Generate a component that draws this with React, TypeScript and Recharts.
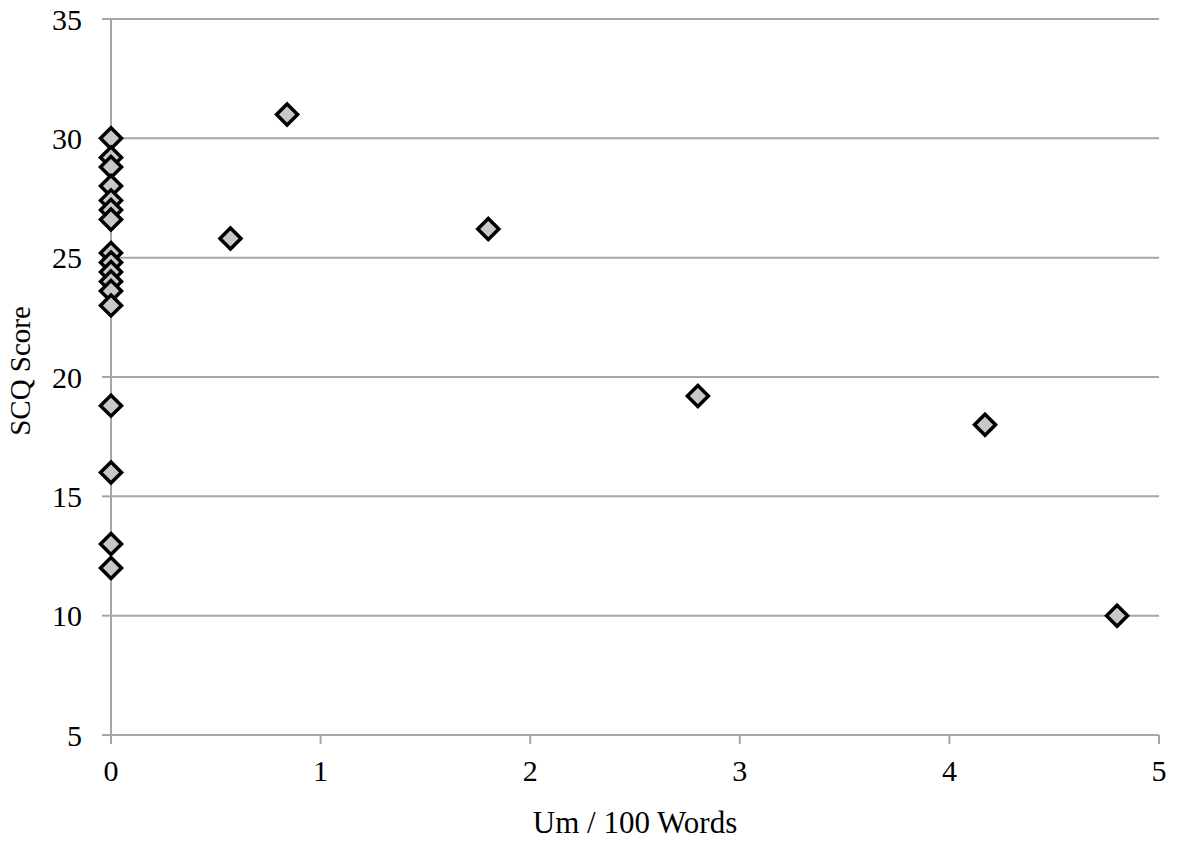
import { ScatterChart, Scatter, XAxis, YAxis, CartesianGrid } from 'recharts';

// x = um per 100 words, y = SCQ score
const umRates = [
  0, 0, 0, 0, 0, 0, 0, 0, 0, 0, 0, 0, 0, 0, 0, 0, 0,
  0.57, 0.84, 1.8, 2.8, 4.17, 4.8,
];
const scqScores = [
  30, 29.2, 28.8, 28, 27.4, 27, 26.6, 25.2, 24.8, 24.4, 24, 23.6, 23, 18.8, 16, 13, 12,
  25.8, 31, 26.2, 19.2, 18, 10,
];
const xTicks = [0, 1, 2, 3, 4, 5];
const yTicks = [5, 10, 15, 20, 25, 30, 35];

const points = umRates.map((x, i) => ({ x, y: scqScores[i] }));

const font = '"Liberation Serif", "Times New Roman", serif';
const gray = '#a6a6a6';

const Diamond = (props: any) => {
  const { cx, cy } = props;
  const r = 10.5;
  return (
    <polygon
      points={`${cx},${cy - r} ${cx + r},${cy} ${cx},${cy + r} ${cx - r},${cy}`}
      fill="#c8c8c8"
      stroke="#000"
      strokeWidth={3.5}
      strokeLinejoin="miter"
    />
  );
};

export default function App() {
  return (
    <div style={{ position: 'absolute', top: 0, left: 0, background: '#fff' }}>
      <ScatterChart width={1178} height={842} margin={{ top: 19, right: 19, left: 0, bottom: 0 }}>
        <CartesianGrid horizontal vertical={false} stroke={gray} strokeWidth={2} />
        <XAxis
          type="number"
          dataKey="x"
          domain={[0, 5]}
          ticks={xTicks}
          height={107}
          stroke={gray}
          strokeWidth={2}
          tickSize={9}
          tickMargin={16}
          tick={{ fill: '#000', fontSize: 30, fontFamily: font }}
          label={{ value: 'Um / 100 Words', position: 'insideBottom', offset: 9, fill: '#000', fontSize: 31, fontFamily: font }}
        />
        <YAxis
          type="number"
          dataKey="y"
          domain={[5, 35]}
          ticks={yTicks}
          width={111}
          stroke={gray}
          strokeWidth={2}
          tickSize={9}
          tickMargin={20}
          tick={{ fill: '#000', fontSize: 30, fontFamily: font }}
          label={{ value: 'SCQ Score', angle: -90, position: 'insideLeft', offset: 20, dy: -6, fill: '#000', fontSize: 29, fontFamily: font, style: { textAnchor: 'middle' } }}
        />
        <Scatter data={points} shape={<Diamond />} isAnimationActive={false} />
      </ScatterChart>
    </div>
  );
}
